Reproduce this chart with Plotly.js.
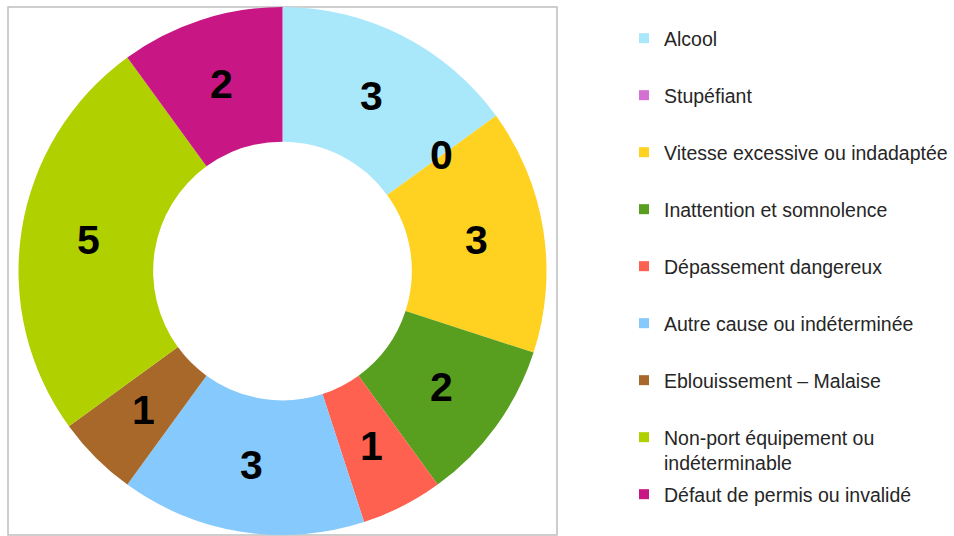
<!DOCTYPE html>
<html>
<head>
<meta charset="utf-8">
<script src="https://cdn.plot.ly/plotly-3.0.1.min.js"></script>
<style>html,body{margin:0;padding:0;background:#fff;}</style>
</head>
<body>
<div id="chart" style="width:954px;height:536px;"></div>
<script>
// ---- data ----
const categories = [
  "Alcool",
  "Stupéfiant",
  "Vitesse excessive ou indadaptée",
  "Inattention et somnolence",
  "Dépassement dangereux",
  "Autre cause ou indéterminée",
  "Eblouissement – Malaise",
  "Non-port équipement ou indéterminable",
  "Défaut de permis ou invalidé"
];
const legendLabels = [
  "Alcool",
  "Stupéfiant",
  "Vitesse excessive ou indadaptée",
  "Inattention et somnolence",
  "Dépassement dangereux",
  "Autre cause ou indéterminée",
  "Eblouissement – Malaise",
  "Non-port équipement ou<br>indéterminable",
  "Défaut de permis ou invalidé"
];
const values = [3, 0, 3, 2, 1, 3, 1, 5, 2];
const colors = ["#A9E8FB", "#D46FD4", "#FFD221", "#589E1F", "#FF6150", "#86C9FC", "#A8682A", "#B0D000", "#C81784"];

// ---- geometry (layout) ----
const W = 954, H = 536;
const box = {x0: 8, x1: 557, y0: 7, y1: 535};
const hole = 0.49;

const pie = {
  type: "pie",
  values: values,
  labels: categories,
  marker: {colors: colors, line: {width: 0}},
  sort: false,
  direction: "clockwise",
  rotation: 0,
  hole: hole,
  textinfo: "none",
  hoverinfo: "label+value",
  showlegend: false,
  domain: {x: [box.x0 / W, box.x1 / W], y: [1 - box.y1 / H, 1 - box.y0 / H]}
};

// legend entries (one per category)
const legendTraces = categories.map((c, i) => ({
  type: "scatter",
  mode: "markers",
  x: [null], y: [null],
  name: legendLabels[i],
  legendgroup: "g" + i,
  legend: i === categories.length - 1 ? "legend2" : "legend",
  marker: {symbol: "square", size: 10, color: colors[i]},
  hoverinfo: "skip"
}));

// value labels at the middle of the ring, computed from the data
const total = values.reduce((a, b) => a + b, 0);
const cx = (box.x0 + box.x1) / 2, cy = (box.y0 + box.y1) / 2;
const R = Math.min(box.x1 - box.x0, box.y1 - box.y0) / 2;
const rMid = R * (1 + hole) / 2;
let cum = 0;
const annotations = values.map((v) => {
  const a = (cum + v / 2) / total * 2 * Math.PI;
  cum += v;
  const px = cx + rMid * Math.sin(a);
  const py = cy - rMid * Math.cos(a);
  return {
    xref: "paper", yref: "paper",
    x: px / W, y: 1 - py / H,
    xanchor: "center", yanchor: "middle",
    text: String(v), showarrow: false,
    font: {family: "Liberation Sans, Arial, sans-serif", size: 41, color: "#000", weight: "bold"}
  };
});

const legendFont = {family: "Liberation Sans, Arial, sans-serif", size: 19.5, color: "#262626"};
const layout = {
  width: W, height: H,
  margin: {l: 0, r: 0, t: 0, b: 0},
  paper_bgcolor: "#fff", plot_bgcolor: "rgba(0,0,0,0)",
  xaxis: {visible: false}, yaxis: {visible: false},
  showlegend: true,
  legend: {
    x: 624 / W, xanchor: "left", y: 1 - 19 / H, yanchor: "top",
    font: legendFont, tracegroupgap: 28.65, valign: "top",
    bgcolor: "rgba(0,0,0,0)", itemclick: false, itemdoubleclick: false
  },
  legend2: {
    x: 624 / W, xanchor: "left", y: 1 - 475 / H, yanchor: "top",
    font: legendFont, valign: "top",
    bgcolor: "rgba(0,0,0,0)", itemclick: false, itemdoubleclick: false
  },
  shapes: [{
    type: "rect", xref: "paper", yref: "paper",
    x0: box.x0 / W, x1: box.x1 / W, y0: 1 - box.y1 / H, y1: 1 - box.y0 / H,
    line: {color: "#BFBFBF", width: 1.5}, fillcolor: "rgba(0,0,0,0)", layer: "below"
  }],
  annotations: annotations
};

Plotly.newPlot("chart", [pie].concat(legendTraces), layout, {displayModeBar: false, staticPlot: true});
</script>
</body>
</html>
